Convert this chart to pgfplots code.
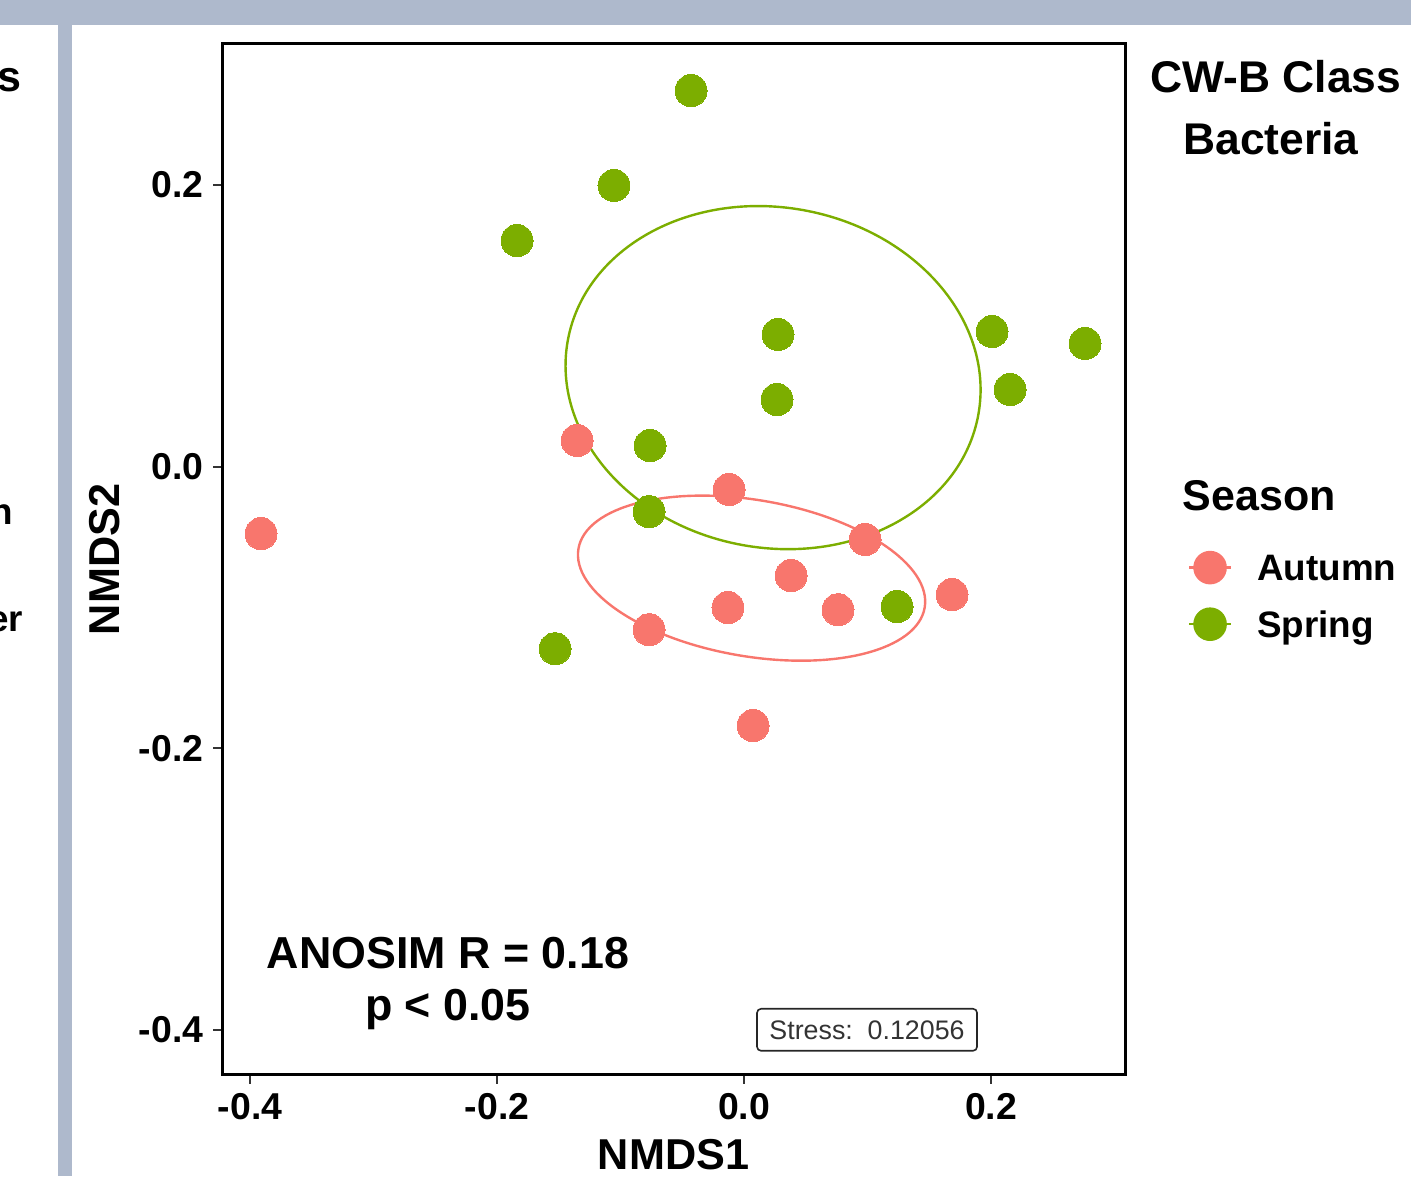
\documentclass[border=0pt]{standalone}
\usepackage{fontspec}
\setmainfont{Liberation Sans}
\usepackage{pgfplots}
\pgfplotsset{compat=1.18}
\definecolor{cAutumn}{HTML}{F8766D}
\definecolor{cSpring}{HTML}{7CAE00}
\definecolor{cFrame}{RGB}{174,185,204}

\begin{document}
\begin{tikzpicture}[x=0.25pt,y=0.25pt]
% page frame (screenshot border)
\path[use as bounding box, clip] (0,0) rectangle (1411,1176);
\fill[cFrame] (0,1151) rectangle (1411,1176);
\fill[cFrame] (58,0) rectangle (72,1151);
% cut-off text of the neighbouring panel
\node[anchor=base east, inner sep=0, font=\fontsize{10.75}{12}\selectfont\bfseries] at (22,1084) {Seasons};
\node[anchor=base east, inner sep=0, font=\fontsize{9.2}{11}\selectfont\bfseries] at (14,651) {Autumn};
\node[anchor=base east, inner sep=0, font=\fontsize{9.2}{11}\selectfont\bfseries] at (24,544) {Winter};
% title and legend title
\node[anchor=base, inner sep=0, font=\fontsize{11.1}{13}\selectfont\bfseries] at (1276,1083) {CW-B Class};
\node[anchor=base, inner sep=0, font=\fontsize{11.1}{13}\selectfont\bfseries] at (1271,1021) {Bacteria};
\node[anchor=base west, inner sep=0, font=\fontsize{10.75}{12}\selectfont\bfseries] at (1182,665) {Season};

\begin{axis}[
    at={(55.5pt,25.25pt)}, anchor=south west,
    scale only axis,
    width=225.75pt, height=257.75pt,
    xmin=-0.4227, xmax=0.3085,
    ymin=-0.432, ymax=0.3001,
    xtick={-0.4,-0.2,0,0.2},
    xticklabels={-0.4,-0.2,0.0,0.2},
    ytick={-0.4,-0.2,0,0.2},
    yticklabels={-0.4,-0.2,0.0,0.2},
    tick pos=left,
    tick align=outside,
    major tick length=2.25pt,
    tick style={line width=0.5pt, black!80},
    axis line style={line width=0.75pt},
    tick label style={font=\fontsize{9.35}{11}\selectfont\bfseries, inner sep=2.25pt},
    xlabel={NMDS1},
    ylabel={NMDS2},
    xlabel style={at={(axis description cs:0.5,-0.0921)}, anchor=base, inner sep=0,
        font=\fontsize{10.8}{12}\selectfont\bfseries},
    ylabel style={at={(axis description cs:-0.1296,0.5)}, anchor=center, inner sep=0,
        font=\fontsize{10.8}{12}\selectfont\bfseries},
    legend style={at={(axis description cs:1.0687,0.5092)}, anchor=north west,
        draw=none, fill=none, inner sep=0pt, row sep=5.75pt,
        font=\fontsize{9.2}{11}\selectfont\bfseries,
        nodes={inner sep=0pt, text depth=0pt},
        /tikz/every odd column/.append style={column sep=6.25pt}},
    legend cell align=left,
]
\addplot[cAutumn, only marks, mark=*, mark size=4pt, mark options={draw=cAutumn, fill=cAutumn, line width=0pt},
    legend image code/.code={
        \draw[cAutumn, line width=0.6pt] (0pt,0pt) -- (10.5pt,0pt);
        \fill[cAutumn] (5.25pt,0pt) circle (4pt);}]
coordinates {
    (-0.3911,-0.0476) (-0.1352,0.0185) (-0.0121,-0.0163) (0.0980,-0.0518)
    (0.0381,-0.0774) (-0.0130,-0.1001) (0.0761,-0.1016) (0.1684,-0.0909)
    (-0.0769,-0.1158) (0.0073,-0.1839)};
\addlegendentry{Autumn}
\addplot[cSpring, only marks, mark=*, mark size=4pt, mark options={draw=cSpring, fill=cSpring, line width=0pt},
    legend image code/.code={
        \draw[cSpring, line width=0.6pt] (0pt,0pt) -- (10.5pt,0pt);
        \fill[cSpring] (5.25pt,0pt) circle (4pt);}]
coordinates {
    (-0.0429,0.2670) (-0.1053,0.1996) (-0.1838,0.1605) (0.0275,0.0938)
    (0.0267,0.0476) (0.2008,0.0959) (0.2761,0.0874) (0.2154,0.0547)
    (-0.0761,0.0149) (-0.0769,-0.0320) (-0.1530,-0.1293) (0.1239,-0.0994)};
\addlegendentry{Spring}

% 95% confidence ellipses
\draw[cSpring, line width=0.6pt, rotate around={-10.2:(axis cs:0.0235,0.0632)}]
    (axis cs:0.0235,0.0632) ellipse [x radius=52.15pt, y radius=42.55pt];
\draw[cAutumn, line width=0.6pt, rotate around={-9.65:(axis cs:0.0061,-0.0792)}]
    (axis cs:0.0061,-0.0792) ellipse [x radius=43.9pt, y radius=19.55pt];

\node[anchor=base, inner sep=0, font=\fontsize{11.2}{13}\selectfont\bfseries]
    at (axis cs:-0.2397,-0.3565) {ANOSIM R = 0.18};
\node[anchor=base, inner sep=0, font=\fontsize{11.2}{13}\selectfont\bfseries]
    at (axis cs:-0.2397,-0.3935) {p < 0.05};
\node[draw=black!85, line width=0.4pt, rounded corners=1pt, text=black!80,
    minimum width=55pt, minimum height=10.5pt, inner sep=0pt,
    font=\fontsize{6.7}{8}\selectfont]
    at (axis cs:0.0996,-0.3999) {Stress:\ \ 0.12056};
\end{axis}
\end{tikzpicture}
\end{document}
